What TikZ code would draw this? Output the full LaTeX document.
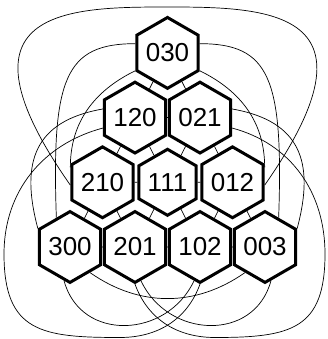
\documentclass[tikz,border=0pt]{standalone}
\usepackage{fontspec}
\setmainfont{Liberation Sans}
\usetikzlibrary{shapes.geometric}
\tikzset{
  hexnode/.style={draw,line width=3pt,fill=white,regular polygon,regular polygon sides=6,
    shape border rotate=30,minimum size=66pt,inner sep=0pt,font=\fontsize{26}{30}\selectfont},
  link/.style={line width=0.7pt}
}
\begin{document}
\begin{tikzpicture}[x=1pt,y=1pt]
\useasboundingbox (0,0) rectangle (328,339);
% states a/b/c with a+b+c=3
\foreach \a/\b/\c in {0/3/0,1/2/0,0/2/1,2/1/0,1/1/1,0/1/2,3/0/0,2/0/1,1/0/2,0/0/3}
  \node[hexnode] (n\a\b\c) at ({70+65*\c+32.5*\b},{92+64.7*\b}) {\a\b\c};
% neighbours in the lattice
\foreach \u/\v in {030/120,030/021,120/021,120/210,120/111,021/111,021/012,210/111,111/012,
    210/300,210/201,111/201,111/102,012/102,012/003,300/201,201/102,102/003}
  \draw[link] (n\u) -- (n\v);
% same line, not neighbours
\draw[link] (n300.-52) to[out=-35,in=-145] (n003.-128);
\draw[link] (n300.-100) to[out=-75,in=-115,looseness=1.26] (n102.-100);
\draw[link] (n003.-80) to[out=-105,in=-65,looseness=1.26] (n201.-80);
\draw[link] (n300.150) to[out=105,in=-170,looseness=1.3] (n120.165);
\draw[link] (n003.30) to[out=75,in=-10,looseness=1.3] (n021.15);
\draw[link] (n300.115) to[out=92,in=180,out distance=140pt,in distance=70pt] (n030.164);
\draw[link] (n003.65) to[out=88,in=0,out distance=140pt,in distance=70pt] (n030.16);
\draw[link] (n030.209) to[out=206,in=90] (n210.155);
\draw[link] (n030.-29) to[out=-26,in=90] (n012.25);
\draw[link] (n210.185) to[out=125,in=180,out distance=215pt,in distance=100pt] (167,332)
  to[out=0,in=55,out distance=100pt,in distance=215pt] (n012.-5);
% outer ones
\draw[link] (n102.-90) to[out=-110,in=0] (120,1.5) to[out=180,in=-90,looseness=1.4] (4,85)
  to[out=90,in=-165] (n120.-162);
\draw[link] (n201.-90) to[out=-70,in=180] (215,1.5) to[out=0,in=-90,looseness=1.4] (325,85)
  to[out=90,in=-15] (n021.-18);
\end{tikzpicture}
\end{document}
